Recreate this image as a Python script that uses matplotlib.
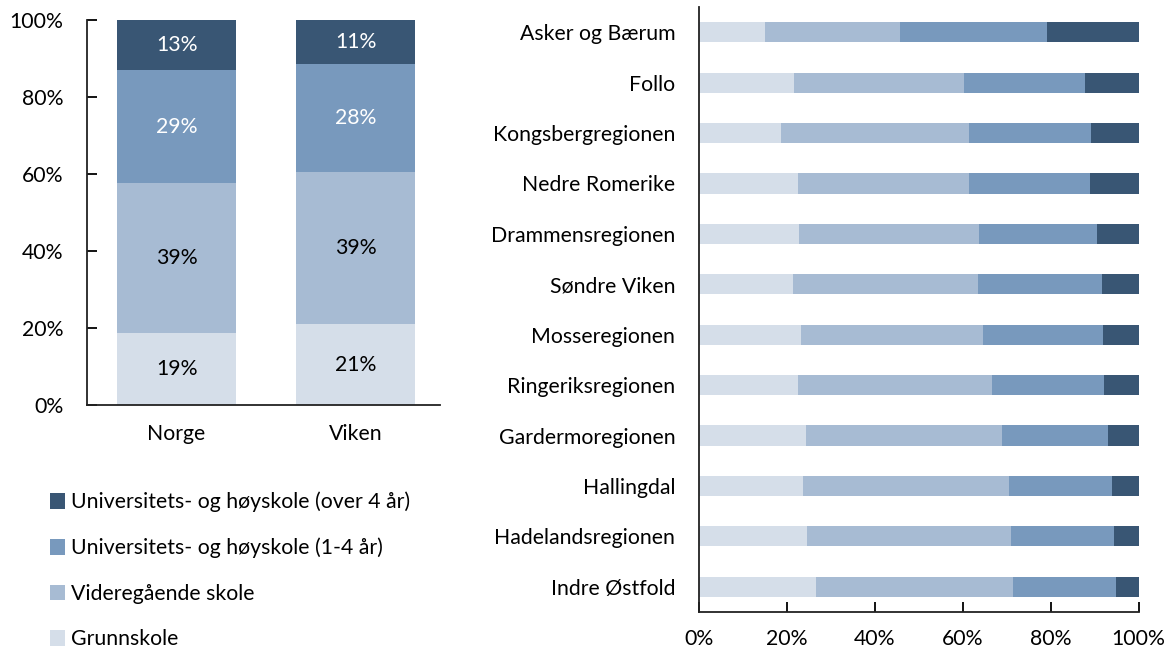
import matplotlib
matplotlib.use("Agg")
import matplotlib.pyplot as plt
from matplotlib.patches import Patch
from matplotlib.ticker import PercentFormatter

plt.rcParams['font.family'] = ['Lato', 'DejaVu Sans']

# categories and series (percent)
levels = ['Grunnskole', 'Videregående skole',
          'Universitets- og høyskole (1-4 år)',
          'Universitets- og høyskole (over 4 år)']
colors = ['#d5dee9', '#a7bbd3', '#7899bd', '#395674']

left_cats = ['Norge', 'Viken']
left_grunn = [18.7, 21.0]
left_vgs = [39.0, 39.4]
left_uni14 = [29.2, 28.2]
left_uni4 = [13.1, 11.4]

regions = ['Asker og Bærum', 'Follo', 'Kongsbergregionen', 'Nedre Romerike',
           'Drammensregionen', 'Søndre Viken', 'Mosseregionen', 'Ringeriksregionen',
           'Gardermoregionen', 'Hallingdal', 'Hadelandsregionen', 'Indre Østfold']
reg_grunn = [15.0, 21.6, 18.7, 22.5, 22.7, 21.4, 23.3, 22.5, 24.3, 23.7, 24.6, 26.5]
reg_vgs = [30.7, 38.6, 42.6, 38.8, 40.9, 42.1, 41.3, 44.1, 44.6, 46.9, 46.4, 44.9]
reg_uni14 = [33.5, 27.5, 27.8, 27.6, 26.8, 28.2, 27.2, 25.6, 24.1, 23.3, 23.4, 23.4]
reg_uni4 = [20.8, 12.3, 10.9, 11.1, 9.6, 8.3, 8.2, 7.8, 7.0, 6.1, 5.6, 5.2]

fs = 15.3
fig = plt.figure(figsize=(11.72, 6.51), dpi=100)

# left chart
ax1 = fig.add_axes([0.0742, 0.3779, 0.3012, 0.5914])
series_l = [left_grunn, left_vgs, left_uni14, left_uni4]
xs = range(len(left_cats))
bottom = [0.0] * len(left_cats)
for vals, col, i in zip(series_l, colors, range(4)):
    bars = ax1.bar(xs, vals, width=0.665, bottom=bottom, color=col)
    tc = 'white' if i >= 2 else 'black'
    ax1.bar_label(bars, labels=['%d%%' % round(v) for v in vals],
                  label_type='center', color=tc, fontsize=fs)
    bottom = [b + v for b, v in zip(bottom, vals)]
ax1.set_xlim(-0.5, 1.47)
ax1.set_ylim(0, 100)
ax1.set_yticks([0, 20, 40, 60, 80, 100])
ax1.yaxis.set_major_formatter(PercentFormatter(decimals=0))
ax1.set_xticks(list(xs))
ax1.set_xticklabels(left_cats)
ax1.tick_params(axis='y', direction='in', length=7, width=1.3, pad=17, labelsize=fs)
ax1.tick_params(axis='x', length=0, pad=14, labelsize=fs)
for s in ['top', 'right']:
    ax1.spines[s].set_visible(False)
for s in ['left', 'bottom']:
    ax1.spines[s].set_linewidth(1.3)
    ax1.spines[s].set_color('#222222')

# right chart
ax2 = fig.add_axes([0.5964, 0.0599, 0.3752, 0.9293])
series_r = [reg_grunn, reg_vgs, reg_uni14, reg_uni4]
ys = range(len(regions))
left = [0.0] * len(regions)
for vals, col in zip(series_r, colors):
    ax2.barh(ys, vals, height=0.4, left=left, color=col)
    left = [a + v for a, v in zip(left, vals)]
ax2.set_ylim(11.5, -0.5)
ax2.set_xlim(0, 100)
ax2.set_yticks(list(ys))
ax2.set_yticklabels(regions)
ax2.set_xticks([0, 20, 40, 60, 80, 100])
ax2.xaxis.set_major_formatter(PercentFormatter(decimals=0))
ax2.tick_params(axis='x', direction='in', length=7, width=1.3, pad=12, labelsize=fs)
ax2.tick_params(axis='y', length=0, pad=17, labelsize=fs)
for s in ['top', 'right']:
    ax2.spines[s].set_visible(False)
for s in ['left', 'bottom']:
    ax2.spines[s].set_linewidth(1.3)
    ax2.spines[s].set_color('#222222')

# legend
handles = [Patch(facecolor=c) for c in colors[::-1]]
fig.legend(handles, levels[::-1], loc='upper left', bbox_to_anchor=(0.035, 0.258),
           frameon=False, fontsize=fs, handlelength=0.75, handleheight=0.75,
           handletextpad=0.25, labelspacing=1.2, borderaxespad=0)

fig.savefig('out.png', dpi=100)
